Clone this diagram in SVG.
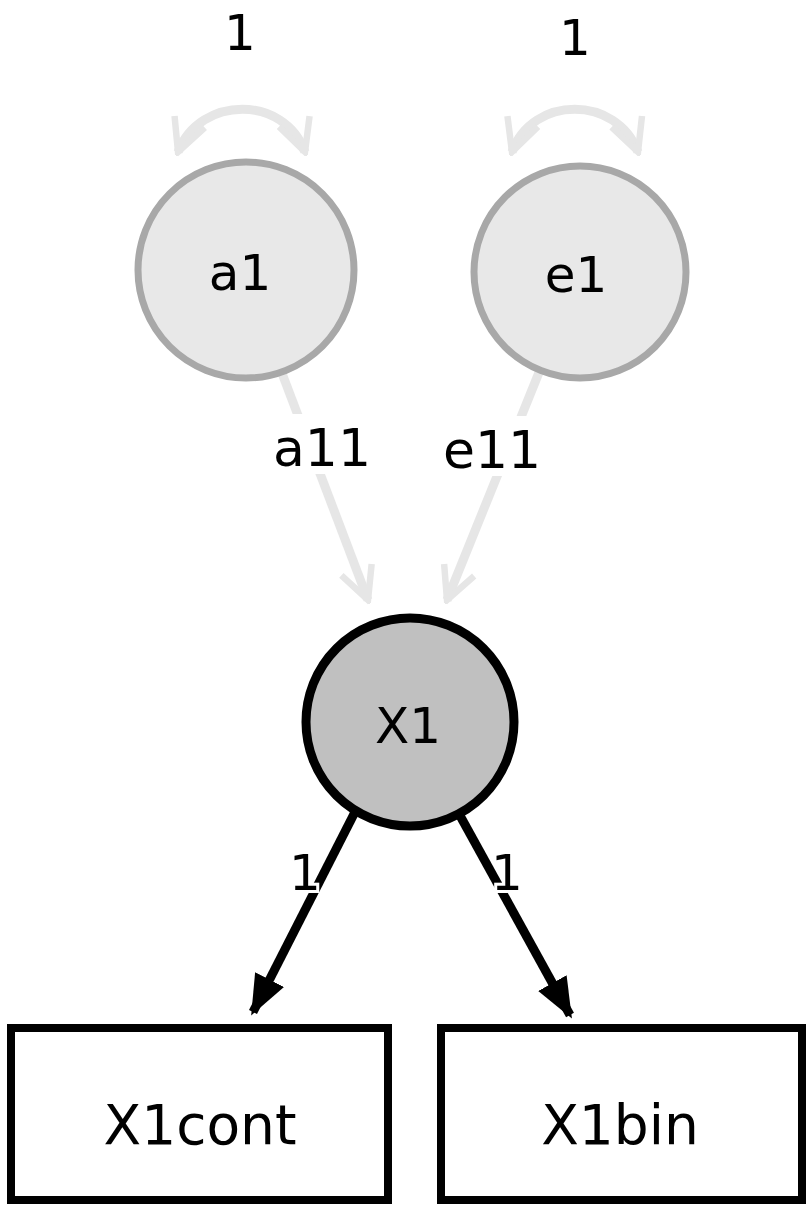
<svg xmlns="http://www.w3.org/2000/svg" width="809" height="1213" viewBox="0 0 809 1213">
<style>
text{font-family:"DejaVu Sans","Liberation Sans",sans-serif;text-anchor:middle;fill:#000}
.lat{fill:#e8e8e8;stroke:#a8a8a8;stroke-width:7}
.gray{fill:none;stroke:#e6e6e6;stroke-width:9}
.blk{fill:none;stroke:#000;stroke-width:9}
</style>
<defs>
<marker id="ag" viewBox="0 0 10 10" refX="9" refY="5" markerWidth="4.5" markerHeight="4.5" orient="auto-start-reverse" markerUnits="strokeWidth">
<path d="M1,1 L9,5 L1,9" fill="none" stroke="#e6e6e6" stroke-width="1.6"/></marker>
<marker id="ab" viewBox="0 0 10 10" refX="9" refY="5" markerWidth="4.5" markerHeight="4.5" orient="auto" markerUnits="strokeWidth">
<path d="M0,1 L10,5 L0,9 Z" fill="#000"/></marker>
</defs>
<g id="connectors">
<path class="gray" d="M178,152 C200,95 285,95 305,152" marker-start="url(#ag)" marker-end="url(#ag)"/>
<path class="gray" d="M512,152 C532,95 617,95 638,152" marker-start="url(#ag)" marker-end="url(#ag)"/>
<line class="gray" x1="280" y1="368" x2="368" y2="600" marker-end="url(#ag)"/>
<line class="gray" x1="540" y1="370" x2="447" y2="600" marker-end="url(#ag)"/>
<line class="blk" x1="355" y1="812" x2="253" y2="1012" marker-end="url(#ab)"/>
<line class="blk" x1="458" y1="812" x2="570" y2="1015" marker-end="url(#ab)"/>
<rect x="264" y="414" width="116" height="60" fill="#fff"/>
<text x="322" y="466" font-size="52">a11</text>
<rect x="434" y="416" width="116" height="60" fill="#fff"/>
<text x="492" y="468" font-size="52">e11</text>
<text x="240" y="50" font-size="50">1</text>
<text x="575" y="55" font-size="50">1</text>
<text x="305" y="890" font-size="50" stroke="#fff" stroke-width="6" paint-order="stroke">1</text>
<text x="507" y="890" font-size="50" stroke="#fff" stroke-width="6" paint-order="stroke">1</text>
</g>
<g id="a1"><circle class="lat" cx="246" cy="270" r="108"/><text x="240" y="290" font-size="50">a1</text></g>
<g id="e1"><circle class="lat" cx="580" cy="272" r="106"/><text x="576" y="292" font-size="50">e1</text></g>
<g id="X1"><circle cx="410" cy="722" r="104" fill="#c0c0c0" stroke="#000" stroke-width="9"/><text x="408" y="743" font-size="50">X1</text></g>
<g id="X1cont"><rect x="11" y="1028" width="377" height="172" fill="#fff" stroke="#000" stroke-width="8"/><text x="200" y="1144" font-size="55">X1cont</text></g>
<g id="X1bin"><rect x="441" y="1028" width="361" height="172" fill="#fff" stroke="#000" stroke-width="8"/><text x="620" y="1144" font-size="55">X1bin</text></g>
</svg>
